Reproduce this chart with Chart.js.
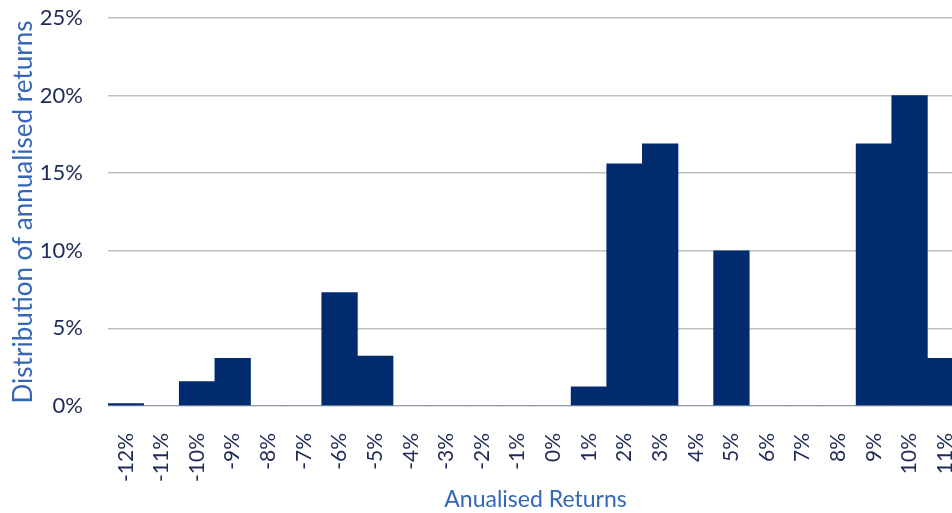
<!DOCTYPE html>
<html><head><meta charset="utf-8">
<script src="https://cdn.jsdelivr.net/npm/chart.js@4/dist/chart.umd.min.js"></script>
<style>
html,body{margin:0;padding:0;background:#fff;overflow:hidden;width:952px;height:513px;}
#wrap{width:963px;height:513px;position:relative;}
</style></head>
<body><div id="wrap"><canvas id="c" width="963" height="513"></canvas></div>
<script>
const categories = ["-12%","-11%","-10%","-9%","-8%","-7%","-6%","-5%","-4%","-3%","-2%","-1%","0%","1%","2%","3%","4%","5%","6%","7%","8%","9%","10%","11%"];
const distribution = [0.15,0,1.57,3.07,0,0,7.3,3.22,0,0,0,0,0,1.24,15.6,16.9,0,10.0,0,0,0,16.9,20.0,3.07];
const yTicks = [0,5,10,15,20,25];

new Chart(document.getElementById('c'), {
  type: 'bar',
  data: { labels: categories, datasets: [{ data: distribution, backgroundColor: '#002c6f', barPercentage: 1, categoryPercentage: 1, borderWidth: 0 }] },
  options: {
    responsive: false, animation: false,
    layout: { padding: { top: 18, right: 0, left: 0, bottom: 0 } },
    plugins: { legend: { display: false }, tooltip: { enabled: false } },
    scales: {
      x: {
        afterFit: (s) => { s.height = 107; s.paddingLeft = 0; s.paddingRight = 0; },
        grid: { display: false }, border: { display: false },
        ticks: { color: '#1c2a55', font: { family: 'Lato', size: 21 }, maxRotation: 90, minRotation: 90, padding: 19 },
        title: { display: true, text: 'Anualised Returns', color: '#3567b8', font: { family: 'Lato', size: 23 }, padding: { top: 23, bottom: 0 } }
      },
      y: {
        min: 0, max: 25,
        afterFit: (s) => { s.width = 108; s.paddingTop = 0; s.paddingBottom = 0; },
        afterBuildTicks: (s) => { s.ticks = yTicks.map(v => ({ value: v })); },
        grid: { color: '#bfbfbf', lineWidth: 1.5, drawTicks: false }, border: { display: false },
        ticks: { color: '#1c2a55', font: { family: 'Lato', size: 22 }, padding: 25, callback: v => v + '%' },
        title: { display: true, text: 'Distribution of annualised returns', color: '#3567b8', font: { family: 'Lato', size: 26 }, padding: { top: 8, bottom: 0 } }
      }
    }
  }
});
</script></body></html>
